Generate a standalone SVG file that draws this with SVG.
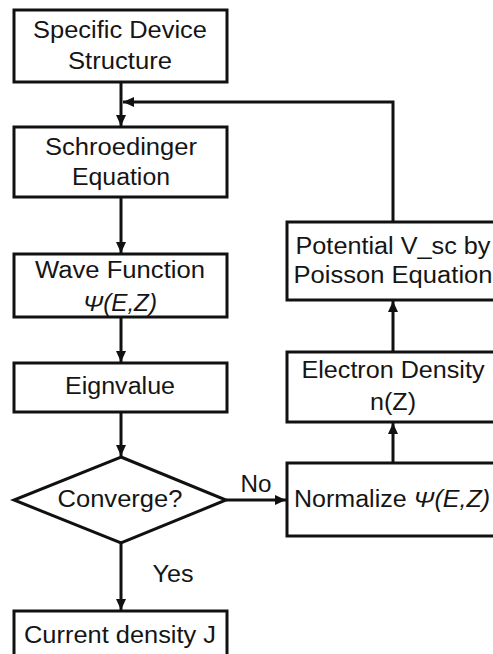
<svg xmlns="http://www.w3.org/2000/svg" width="493" height="654" viewBox="0 0 493 654">
<style>
.box{fill:#fff;stroke:#111;stroke-width:3}
.t{font-family:"Liberation Sans",Arial,sans-serif;font-size:23px;fill:#151515;text-anchor:middle}
.it{font-style:italic}
.c{fill:none;stroke:#111;stroke-width:3}
</style>
<defs>
<marker id="ah" markerUnits="userSpaceOnUse" markerWidth="12" markerHeight="12" viewBox="0 0 12 12" refX="11" refY="6" orient="auto">
<path d="M0,1 L11,6 L0,11 Z" fill="#111"/>
</marker>
</defs>
<rect width="493" height="654" fill="#fff"/>
<g id="connectors">
<line class="c" x1="121" y1="82" x2="121" y2="126" marker-end="url(#ah)"/>
<polyline class="c" points="393,222 393,102 123,102" marker-end="url(#ah)"/>
<line class="c" x1="121" y1="197" x2="121" y2="253" marker-end="url(#ah)"/>
<line class="c" x1="121" y1="317" x2="121" y2="362" marker-end="url(#ah)"/>
<line class="c" x1="121" y1="412" x2="121" y2="456" marker-end="url(#ah)"/>
<line class="c" x1="121" y1="543" x2="121" y2="610" marker-end="url(#ah)"/>
<line class="c" x1="226" y1="500" x2="286" y2="500" marker-end="url(#ah)"/>
<line class="c" x1="393" y1="463" x2="393" y2="423" marker-end="url(#ah)"/>
<line class="c" x1="393" y1="352" x2="393" y2="301" marker-end="url(#ah)"/>
<text class="t" x="256" y="492" textLength="31" lengthAdjust="spacingAndGlyphs">No</text>
<text class="t" x="173" y="582" textLength="41" lengthAdjust="spacingAndGlyphs">Yes</text>
</g>
<g id="device">
<rect class="box" x="14" y="10" width="213" height="72"/>
<text class="t" x="120" y="38" textLength="174" lengthAdjust="spacingAndGlyphs">Specific Device</text>
<text class="t" x="120" y="69" textLength="104" lengthAdjust="spacingAndGlyphs">Structure</text>
</g>
<g id="schroedinger">
<rect class="box" x="14" y="127" width="213" height="70"/>
<text class="t" x="121" y="155" textLength="152" lengthAdjust="spacingAndGlyphs">Schroedinger</text>
<text class="t" x="121" y="185" textLength="98" lengthAdjust="spacingAndGlyphs">Equation</text>
</g>
<g id="wave">
<rect class="box" x="14" y="254" width="213" height="63"/>
<text class="t" x="120" y="278" textLength="170" lengthAdjust="spacingAndGlyphs">Wave Function</text>
<text class="t it" x="120" y="311" textLength="74" lengthAdjust="spacingAndGlyphs">Ψ(E,Z)</text>
</g>
<g id="eign">
<rect class="box" x="14" y="363" width="213" height="49"/>
<text class="t" x="120" y="394" textLength="110" lengthAdjust="spacingAndGlyphs">Eignvalue</text>
</g>
<g id="converge">
<polygon class="box" points="121,457 226,500 121,543 14,500"/>
<text class="t" x="120" y="507" textLength="125" lengthAdjust="spacingAndGlyphs">Converge?</text>
</g>
<g id="current">
<rect class="box" x="14" y="611" width="213" height="50"/>
<text class="t" x="120" y="643" textLength="192" lengthAdjust="spacingAndGlyphs">Current density J</text>
</g>
<g id="potential">
<rect class="box" x="287" y="222" width="212" height="78"/>
<text class="t" x="393" y="254" textLength="195" lengthAdjust="spacingAndGlyphs">Potential V_sc by</text>
<text class="t" x="393" y="283" textLength="199" lengthAdjust="spacingAndGlyphs">Poisson Equation</text>
</g>
<g id="electron">
<rect class="box" x="287" y="352" width="212" height="70"/>
<text class="t" x="393" y="378" textLength="183" lengthAdjust="spacingAndGlyphs">Electron Density</text>
<text class="t" x="393" y="410" textLength="46" lengthAdjust="spacingAndGlyphs">n(Z)</text>
</g>
<g id="normalize">
<rect class="box" x="287" y="463" width="212" height="73"/>
<text class="t" x="392" y="507" textLength="196" lengthAdjust="spacingAndGlyphs">Normalize <tspan class="it">Ψ(E,Z)</tspan></text>
</g>
</svg>
